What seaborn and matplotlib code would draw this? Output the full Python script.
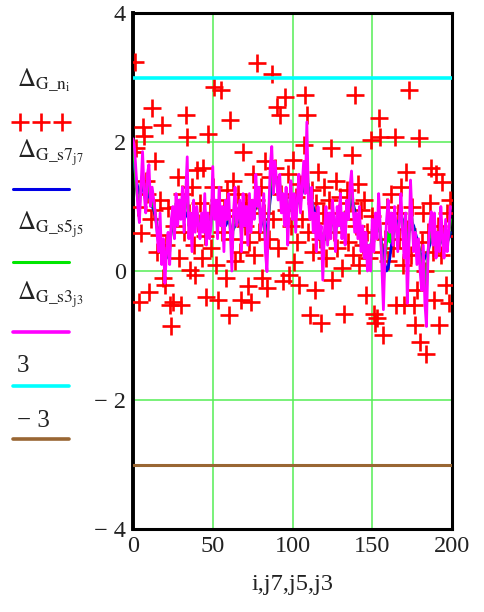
import numpy as np
import pandas as pd
import seaborn as sns
import matplotlib.pyplot as plt
from matplotlib.lines import Line2D

# Δ_G_n  (noisy samples, index i = 0..199)
delta_n = [
    1.85, 3.24, 1.9, 1.0, -0.48, 0.59, 2.24, 2.1, 1.4, 1.2,
    -0.32, 0.8, 2.52, 0.95, 1.7, 0.3, 0.56, 1.1, 2.26, -0.11,
    -0.22, 0.4, 0.97, -0.53, -0.86, -0.48, 0.7, 1.0, 1.46, 0.2,
    -0.53, 1.2, 0.6, 2.42, 2.08, 0.9, 0.02, 1.3, 0.4, -0.06,
    1.57, 0.75, 1.05, 0.2, 1.6, 0.55, -0.4, 2.13, 0.9, 0.35,
    1.3, 2.86, 0.1, -0.45, 1.1, 2.8, 0.6, 0.95, -0.11, 1.25,
    -0.68, 2.34, 0.5, 1.4, 0.15, 0.85, 1.2, 0.3, -0.45, 1.85,
    0.7, 1.05, -0.24, 0.45, -0.48, 1.5, 0.25, 1.1, 3.22, 0.6,
    1.3, -0.11, 0.9, 1.7, -0.27, 0.5, 1.45, 3.06, 0.8, 1.6,
    2.55, 0.35, 2.42, 1.2, -0.16, 2.7, 0.95, 1.5, -0.06, 0.7,
    1.72, 0.14, 1.15, 0.45, -0.22, 1.35, 0.8, 1.95, 2.73, 2.42,
    0.6, -0.68, 1.25, 0.3, -0.29, 1.05, 1.54, 0.5, -0.81, 0.9,
    1.3, 0.2, 0.75, 1.1, 1.9, -0.14, 0.6, 1.4, 0.35, 0.9,
    1.15, 0.05, -0.66, 0.8, 1.25, 0.45, 1.05, 1.8, 0.25, 2.73,
    0.7, 1.35, 0.1, 0.95, 0.4, 1.1, -0.37, 0.6, 0.2, 2.03,
    0.85, -0.66, -0.81, -0.73, 2.37, 2.08, 0.3, -0.99, 0.5, 1.0,
    0.15, 0.75, 1.2, 0.35, 2.08, -0.53, 0.9, 0.5, 1.3, 0.1,
    -0.53, 1.54, 0.65, 2.8, 0.25, 1.0, -0.53, -0.84, -0.29, 2.06,
    -1.1, 0.45, 0.9, 0.0, -1.28, 0.6, 1.05, 1.59, 0.3, -0.45,
    1.51, 0.7, -0.84, 0.25, 1.38, 0.55, -0.22, 0.9, -0.5, 1.1,
]

# Δ_G_s7 (smoothed, window 7)
delta_s7 = [
    1.8, 1.6, 1.4, 1.3, 1.2, 1.25, 1.3, 1.2, 1.1, 1.15,
    1.2, 1.1, 1.0, 0.95, 0.85, 0.7, 0.55, 0.5, 0.4, 0.3,
    0.25, 0.2, 0.3, 0.45, 0.6, 0.7, 0.8, 0.9, 0.95, 1.0,
    1.05, 1.0, 0.95, 0.9, 0.85, 0.8, 0.75, 0.7, 0.7, 0.75,
    0.8, 0.75, 0.7, 0.65, 0.7, 0.75, 0.7, 0.65, 0.7, 0.8,
    0.9, 0.95, 0.9, 0.85, 0.8, 0.85, 0.8, 0.75, 0.7, 0.75,
    0.8, 0.7, 0.6, 0.65, 0.7, 0.75, 0.8, 0.75, 0.7, 0.75,
    0.8, 0.75, 0.7, 0.75, 0.8, 0.85, 0.9, 1.0, 1.05, 1.0,
    0.9, 0.8, 0.7, 0.6, 0.65, 0.85, 1.1, 1.3, 1.4, 1.45,
    1.4, 1.3, 1.25, 1.2, 1.1, 1.05, 1.0, 0.95, 1.0, 1.05,
    1.0, 1.05, 1.0, 1.05, 1.1, 1.15, 1.2, 1.3, 1.35, 1.4,
    1.3, 1.2, 1.1, 1.0, 0.9, 0.8, 0.75, 0.6, 0.5, 0.45,
    0.5, 0.6, 0.65, 0.7, 0.7, 0.75, 0.7, 0.65, 0.7, 0.75,
    0.8, 0.8, 0.85, 0.85, 0.9, 0.95, 1.0, 1.1, 1.05, 0.95,
    0.85, 0.75, 0.65, 0.5, 0.4, 0.35, 0.3, 0.3, 0.35, 0.4,
    0.5, 0.55, 0.6, 0.65, 0.7, 0.6, 0.4, 0.2, 0.1, 0.0,
    0.05, 0.2, 0.4, 0.55, 0.65, 0.7, 0.75, 0.8, 0.85, 0.8,
    0.7, 0.6, 0.55, 0.6, 0.7, 0.75, 0.7, 0.6, 0.5, 0.4,
    0.3, 0.2, 0.15, 0.2, 0.25, 0.3, 0.4, 0.5, 0.55, 0.5,
    0.45, 0.4, 0.4, 0.45, 0.5, 0.45, 0.4, 0.45, 0.5, 0.6,
]

# Δ_G_s5 (smoothed, window 5)
delta_s5 = [
    1.9, 1.7, 1.3, 1.1, 1.0, 1.35, 1.5, 1.25, 1.05, 1.3,
    1.4, 1.1, 1.15, 1.0, 0.9, 0.65, 0.45, 0.6, 0.3, 0.35,
    0.1, 0.25, 0.4, 0.3, 0.65, 0.85, 0.7, 1.05, 0.85, 1.1,
    0.95, 1.15, 0.8, 1.05, 1.3, 0.7, 0.85, 0.55, 0.9, 0.7,
    0.9, 0.75, 0.6, 0.8, 0.65, 0.95, 0.55, 0.8, 0.6, 0.75,
    1.25, 0.9, 1.0, 0.7, 1.05, 0.8, 0.9, 0.55, 0.9, 0.8,
    0.95, 0.65, 0.35, 0.75, 0.95, 0.75, 0.85, 0.9, 0.55, 0.95,
    0.75, 0.9, 0.6, 0.95, 0.75, 0.95, 0.85, 1.2, 1.0, 1.1,
    0.75, 0.85, 0.9, 0.5, 0.3, 0.8, 1.3, 1.55, 1.3, 1.55,
    1.4, 1.2, 1.35, 1.05, 1.15, 0.9, 1.15, 0.7, 1.0, 1.2,
    0.9, 1.1, 0.85, 1.05, 1.25, 1.05, 1.25, 1.45, 1.3, 1.8,
    1.2, 1.0, 1.15, 0.8, 0.85, 0.55, 0.85, 0.55, 0.6, 0.2,
    0.55, 0.8, 0.55, 0.8, 0.6, 0.9, 0.75, 0.5, 0.85, 0.7,
    1.0, 0.65, 0.9, 0.6, 1.0, 0.85, 1.15, 1.35, 1.05, 0.8,
    0.85, 0.6, 0.8, 0.4, 0.55, 0.3, 0.45, 0.15, 0.4, 0.2,
    0.65, 0.45, 0.75, 0.6, 0.95, 0.65, 0.25, -0.2, 0.2, 0.45,
    0.6, 0.45, 0.7, 0.5, 0.85, 0.7, 0.5, 0.8, 1.0, 0.7,
    0.45, 0.75, 0.1, 0.5, 1.05, 0.8, 0.5, 0.6, 0.3, 0.45,
    0.15, -0.05, 0.3, -0.1, -0.3, 0.3, 0.55, 0.7, 0.45, 0.7,
    0.35, 0.5, 0.35, 0.75, 0.5, 0.3, 0.6, 0.4, 0.55, 0.8,
]

# Δ_G_s3 (smoothed, window 3)
delta_s3 = [
    2.05, 1.9, 1.5, 1.0, 0.75, 1.3, 1.85, 1.2, 0.9, 1.5,
    1.65, 1.0, 1.3, 1.1, 0.9, 0.6, 0.3, 0.9, 0.1, 0.5,
    -0.19, 0.3, 0.6, 0.1, 0.8, 1.0, 0.5, 1.2, 0.7, 1.1,
    0.8, 1.3, 0.6, 1.2, 1.77, 0.5, 0.9, 0.3, 1.1, 0.6,
    1.0, 0.7, 0.5, 0.9, 0.6, 1.2, 0.4, 0.9, 0.5, 0.7,
    1.62, 0.8, 1.1, 0.5, 1.3, 0.7, 1.0, 0.3, 1.1, 0.8,
    1.2, 0.6, 0.0, 0.9, 1.3, 0.7, 0.9, 1.1, 0.3, 1.2,
    0.7, 1.0, 0.4, 1.2, 0.6, 1.1, 0.8, 1.5, 1.0, 1.3,
    0.6, 0.9, 1.2, 0.3, -0.01, 0.8, 1.6, 1.93, 1.2, 1.7,
    1.4, 1.1, 1.5, 0.9, 1.2, 0.7, 1.3, 0.4, 1.0, 1.4,
    0.8, 1.2, 0.6, 1.1, 1.5, 0.9, 1.3, 1.7, 1.2, 2.31,
    1.1, 0.8, 1.3, 0.6, 0.9, 0.3, 1.0, 0.5, 0.7, -0.14,
    0.6, 1.0, 0.4, 0.9, 0.5, 1.1, 0.8, 0.3, 1.0, 0.7,
    1.2, 0.5, 0.9, 0.4, 1.1, 0.8, 1.3, 1.55, 1.0, 0.6,
    0.9, 0.5, 1.0, 0.3, 0.7, 0.2, 0.6, 0.0, 0.4, 0.0,
    0.8, 0.3, 0.9, 0.5, 1.2, 0.7, 0.1, -0.6, 0.3, 0.8,
    1.1, 0.6, 0.9, 0.4, 1.0, 0.7, 0.3, 0.8, 1.2, 0.6,
    0.2, 0.9, -0.5, 0.4, 1.41, 0.8, 0.3, 0.6, 0.1, 0.5,
    0.0, -0.3, 0.4, -0.5, -0.86, 0.3, 0.7, 0.92, 0.4, 0.9,
    0.2, 0.6, 0.3, 1.0, 0.5, 0.2, 0.8, 0.3, 0.6, 1.0,
]

idx = list(range(200))
x_ticks = [0, 50, 100, 150, 200]
y_ticks = [-4, -2, 0, 2, 4]
y_tick_labels = ["\u2212 4", "\u2212 2", "0", "2", "4"]
upper, lower = 3, -3

sns.set_style("white")
plt.rcParams['font.family'] = ['Liberation Serif', 'DejaVu Serif']
plt.rcParams['mathtext.fontset'] = 'stix'

W, H = 484, 612
fig = plt.figure(figsize=(W / 100, H / 100), dpi=100)
ax = fig.add_axes([133 / W, 1 - 529 / H, (452 - 133) / W, (529 - 13) / H])

df = pd.DataFrame({"i": idx, "n": delta_n, "s7": delta_s7,
                   "s5": delta_s5, "s3": delta_s3})

sns.scatterplot(data=df, x="i", y="n", marker="+", color="#ff0000",
                s=150, linewidth=1.9, ax=ax, zorder=3)
sns.lineplot(data=df, x="i", y="s7", color="#0000e6", lw=2.0,
             estimator=None, ax=ax, zorder=4)
sns.lineplot(data=df, x="i", y="s5", color="#00e600", lw=2.0,
             estimator=None, ax=ax, zorder=5)
sns.lineplot(data=df, x="i", y="s3", color="#ff00ff", lw=2.0,
             estimator=None, ax=ax, zorder=6)
ax.axhline(upper, color="#00ffff", lw=2.6, zorder=7)
ax.axhline(lower, color="#996633", lw=2.2, zorder=7)

ax.set_xlim(0, 200)
ax.set_ylim(-4, 4)
ax.set_xticks(x_ticks)
ax.set_yticks(y_ticks)
ax.set_yticklabels(y_tick_labels)
ax.tick_params(axis="both", length=0, labelsize=17.5, colors="#222222")
ax.tick_params(axis="x", pad=5)
ax.tick_params(axis="y", pad=5)
ax.grid(True, color="#55ee55", lw=1.1)
ax.set_axisbelow(True)
for side, sp in ax.spines.items():
    sp.set_color("black")
    sp.set_linewidth(2.2)
ax.spines["left"].set_linewidth(2.8)
ax.set_xlabel("i,j7,j5,j3", fontsize=17.5, labelpad=12, color="#222222")
ax.set_ylabel("")

# legend block on the left (label above its sample)
def fx(px):
    return px / W

def fy(py):
    return 1 - py / H

labels = [
    (r"$\Delta_{\mathrm{G\_n}_{\mathrm{i}}}$", 86),
    (r"$\Delta_{\mathrm{G\_s7}_{\mathrm{j7}}}$", 157),
    (r"$\Delta_{\mathrm{G\_s5}_{\mathrm{j5}}}$", 229),
    (r"$\Delta_{\mathrm{G\_s3}_{\mathrm{j3}}}$", 299),
    ("3", 372),
    ("\u2212 3", 427),
]
for txt, base in labels:
    fig.text(fx(17), fy(base), txt, fontsize=18, va="baseline",
             ha="left", color="#222222")

fig.add_artist(Line2D([fx(20), fx(41), fx(62)], [fy(122)] * 3,
                      transform=fig.transFigure, ls="none", marker="+",
                      markersize=12.5, mew=1.9, color="#ff0000"))
samples = [(189, "#0000e6", 2.2), (262, "#00e600", 2.2), (332, "#ff00ff", 2.6),
           (386, "#00ffff", 2.6), (439, "#996633", 2.6)]
for py, col, lw in samples:
    fig.add_artist(Line2D([fx(13), fx(69)], [fy(py)] * 2,
                          transform=fig.transFigure, color=col, lw=lw))

fig.savefig("out.png", dpi=100)
